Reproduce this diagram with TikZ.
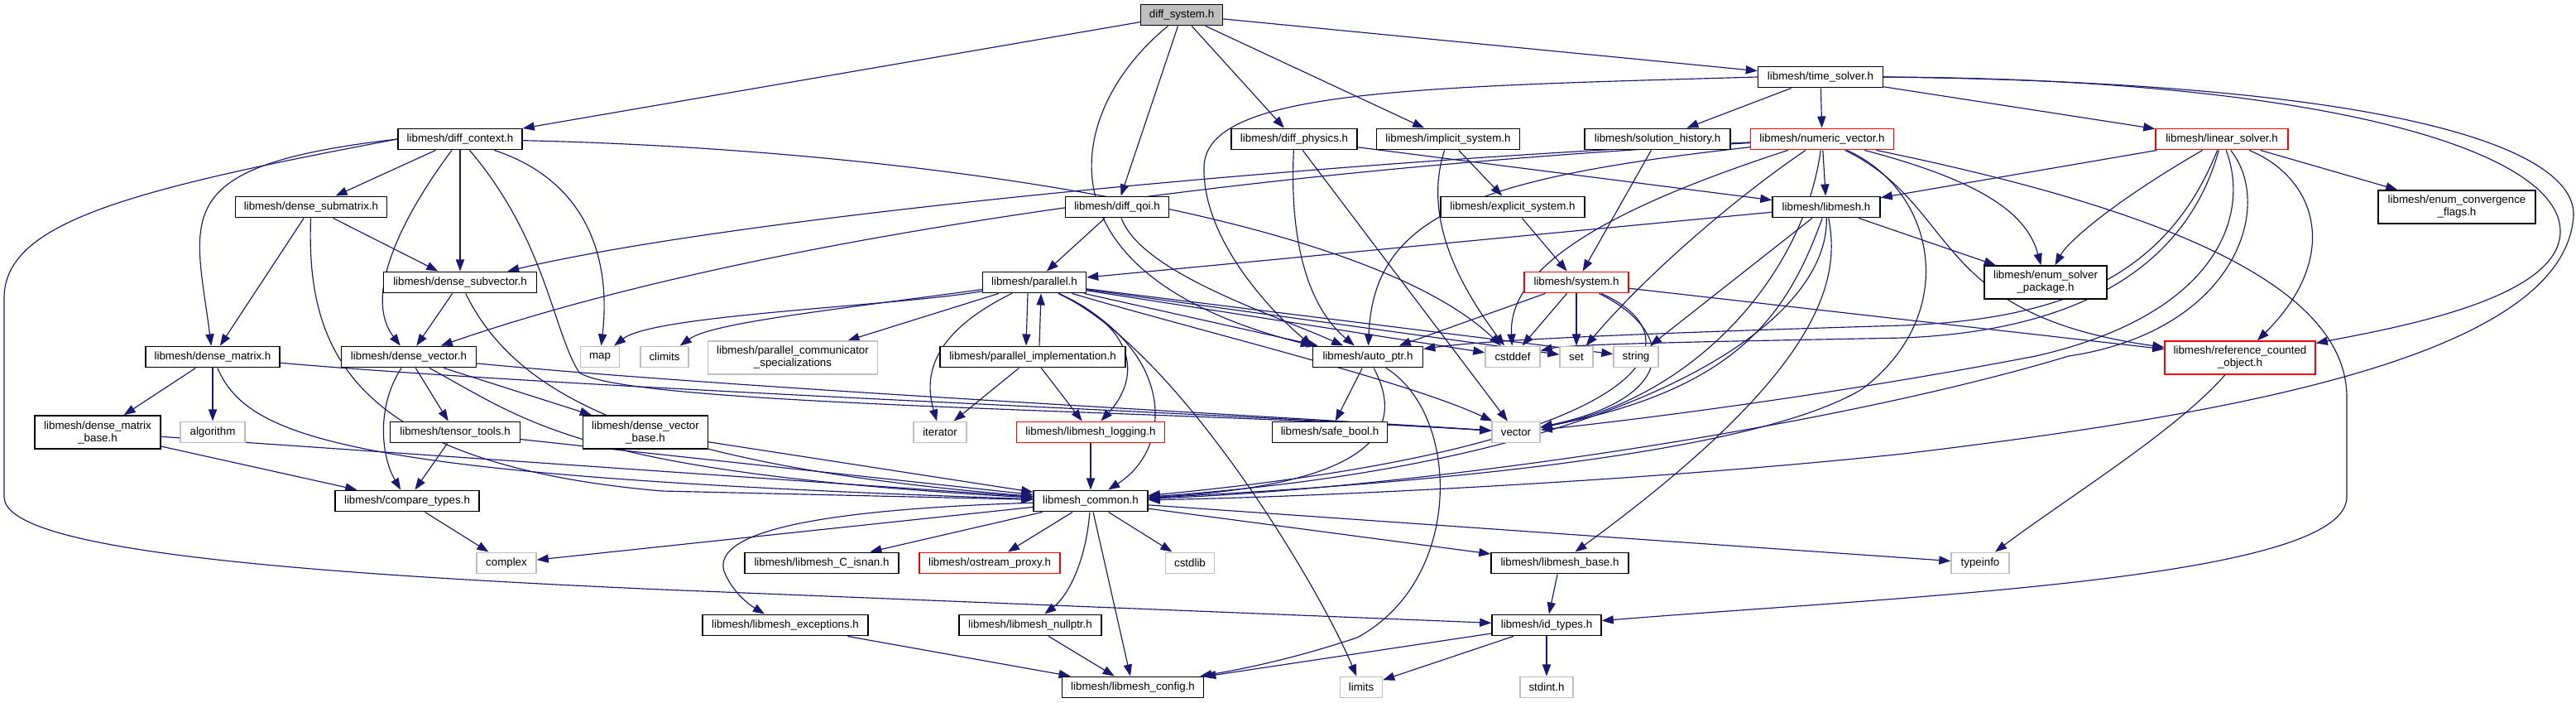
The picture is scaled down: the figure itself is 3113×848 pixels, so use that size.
\documentclass[tikz,border=0pt]{standalone}
\usepackage{fontspec}
\setmainfont{Liberation Sans}
\usetikzlibrary{arrows.meta,backgrounds}
\definecolor{eb}{RGB}{25,25,112}
\definecolor{gb}{RGB}{191,191,191}
\definecolor{rb}{RGB}{255,0,0}
\begin{document}
\begin{tikzpicture}[x=0.01cm,y=-0.01cm,
  nd/.style={font=\fontsize{3.79pt}{4.27pt}\selectfont, inner sep=0pt, minimum height=0.255cm, draw=black, line width=0.4pt, fill=white, text=black},
  rbx/.style={draw=rb},
  sbx/.style={draw=gb},
  tl/.style={minimum height=0.40cm, align=center},
  wd/.style={minimum width=#1*0.01cm},
  edg/.style={draw=eb, line width=0.33pt, -{Triangle[length=4pt,width=2.9pt]}}]
\useasboundingbox (0,0) rectangle (3113,848);
% row 0
\node[nd,wd=99,fill=gb] (ds) at (1428,18) {diff\_system.h};
% row 1
\node[nd,wd=151] (ts) at (2200,93) {libmesh/time\_solver.h};
% row 2
\node[nd,wd=150] (dctx) at (556,168) {libmesh/diff\_context.h};
\node[nd,wd=152] (dphy) at (1564,168) {libmesh/diff\_physics.h};
\node[nd,wd=173] (isys) at (1750,168) {libmesh/implicit\_system.h};
\node[nd,wd=176] (sh) at (2003,168) {libmesh/solution\_history.h};
\node[nd,rbx,wd=173] (nv) at (2202,168) {libmesh/numeric\_vector.h};
\node[nd,rbx,wd=160] (ls) at (2685,168) {libmesh/linear\_solver.h};
% row 3
\node[nd,wd=183] (dsm) at (376,250) {libmesh/dense\_submatrix.h};
\node[nd,wd=125] (dq) at (1350,250) {libmesh/diff\_qoi.h};
\node[nd,wd=174] (esys) at (1828,250) {libmesh/explicit\_system.h};
\node[nd,wd=130] (lmh) at (2207,250) {libmesh/libmesh.h};
\node[nd,tl,wd=190] (ecf) at (2969,250) {libmesh/enum\_convergence\\\_flags.h};
% row 4
\node[nd,wd=185] (dsv) at (556,341) {libmesh/dense\_subvector.h};
\node[nd,wd=125] (par) at (1250,341) {libmesh/parallel.h};
\node[nd,rbx,wd=126] (sys) at (1905,341) {libmesh/system.h};
\node[nd,tl,wd=148] (esp) at (2472,341) {libmesh/enum\_solver\\\_package.h};
% row 5
\node[nd,wd=162] (dm) at (257,431) {libmesh/dense\_matrix.h};
\node[nd,wd=163] (dv) at (494,431) {libmesh/dense\_vector.h};
\node[nd,sbx,wd=47] (map) at (725,431) {map};
\node[nd,sbx,wd=58] (clim) at (803,431) {climits};
\node[nd,sbx,tl,wd=205] (pcs) at (958,432) {libmesh/parallel\_communicator\\\_specializations};
\node[nd,wd=224] (pim) at (1248,431) {libmesh/parallel\_implementation.h};
\node[nd,wd=133] (ap) at (1653,431) {libmesh/auto\_ptr.h};
\node[nd,sbx,wd=66] (csd) at (1828,431) {cstddef};
\node[nd,sbx,wd=40] (set) at (1905,431) {set};
\node[nd,sbx,wd=54] (str) at (1977,431) {string};
\node[nd,rbx,tl,wd=182] (rco) at (2707,432) {libmesh/reference\_counted\\\_object.h};
% row 6
\node[nd,tl,wd=152] (dmb) at (118,522) {libmesh/dense\_matrix\\\_base.h};
\node[nd,sbx,wd=78] (alg) at (257,522) {algorithm};
\node[nd,wd=157] (tt) at (550,522) {libmesh/tensor\_tools.h};
\node[nd,tl,wd=151] (dvb) at (780,522) {libmesh/dense\_vector\\\_base.h};
\node[nd,sbx,wd=64] (itr) at (1136,522) {iterator};
\node[nd,rbx,wd=179] (log) at (1318,522) {libmesh/libmesh\_logging.h};
\node[nd,wd=139] (sb) at (1607,522) {libmesh/safe\_bool.h};
\node[nd,sbx,wd=58] (vec) at (1832,522) {vector};
% row 7
\node[nd,wd=174] (ct) at (492,605) {libmesh/compare\_types.h};
\node[nd,wd=138] (lc) at (1318,605) {libmesh\_common.h};
% row 8
\node[nd,sbx,wd=72] (cx) at (612,680) {complex};
\node[nd,wd=186] (isn) at (993,680) {libmesh/libmesh\_C\_isnan.h};
\node[nd,rbx,wd=170] (osp) at (1196,680) {libmesh/ostream\_proxy.h};
\node[nd,sbx,wd=59] (cstd) at (1438,680) {cstdlib};
\node[nd,wd=166] (lb) at (1885,680) {libmesh/libmesh\_base.h};
\node[nd,sbx,wd=70] (ti) at (2393,680) {typeinfo};
% row 9
\node[nd,wd=200] (lex) at (949,755) {libmesh/libmesh\_exceptions.h};
\node[nd,wd=172] (lnp) at (1245,755) {libmesh/libmesh\_nullptr.h};
\node[nd,wd=132] (idt) at (1869,755) {libmesh/id\_types.h};
% row 10
\node[nd,wd=171] (lcfg) at (1369,830) {libmesh/libmesh\_config.h};
\node[nd,sbx,wd=51] (lim) at (1645,830) {limits};
\node[nd,sbx,wd=64] (sti) at (1869,830) {stdint.h};

\begin{scope}[on background layer]
% diff_system
\draw[edg] (ds) -- (dctx);
\draw[edg] (ds) .. controls (1290,130) and (1240,330) .. (ap.north west);
\draw[edg] (ds) -- (dq);
\draw[edg] (ds) -- (dphy);
\draw[edg] (ds) -- (isys);
\draw[edg] (ds) -- (ts);
% diff_context
\draw[edg] (dctx) -- (dsm);
\draw[edg] (dctx) -- (dsv);
\draw[edg] (dctx) .. controls (480,270) and (440,360) .. (dv);
\draw[edg] (dctx.west) .. controls (200,200) and (235,260) .. (dm);
\draw[edg] (dctx.west) .. controls (150,230) and (5,270) .. (5,360) -- (5,600) .. controls (5,660) and (300,690) .. (800,712) -- (idt);
\draw[edg] (dctx) .. controls (700,215) and (740,300) .. (map);
\draw[edg] (dctx) .. controls (660,290) and (668,400) .. (700,450) .. controls (760,490) and (1400,495) .. (vec);
\draw[edg] (dctx) .. controls (1100,180) and (1650,260) .. (csd);
% dense_submatrix
\draw[edg] (dsm) -- (dm);
\draw[edg] (dsm) -- (dsv);
\draw[edg] (dsm) .. controls (370,420) and (420,560) .. (800,593) -- (lc);
% dense_subvector
\draw[edg] (dsv) -- (dv);
\draw[edg] (dsv) .. controls (620,470) and (760,560) .. (lc);
% dense_matrix
\draw[edg] (dm) -- (dmb);
\draw[edg] (dm) -- (alg);
\draw[edg] (dm) .. controls (300,530) and (420,575) .. (lc);
\draw[edg] (dm) .. controls (700,470) and (1500,500) .. (vec);
% dense_vector
\draw[edg] (dv) .. controls (455,490) and (460,550) .. (ct);
\draw[edg] (dv) -- (tt);
\draw[edg] (dv) -- (dvb);
\draw[edg] (dv) .. controls (640,510) and (700,570) .. (lc);
\draw[edg] (dv) .. controls (900,470) and (1500,500) .. (vec);
% others lower left
\draw[edg] (dmb) -- (ct);
\draw[edg] (dmb) -- (lc);
\draw[edg] (tt) -- (ct);
\draw[edg] (tt) -- (lc);
\draw[edg] (dvb) -- (lc);
\draw[edg] (ct) -- (cx);
% diff_qoi
\draw[edg] (dq) -- (par);
\draw[edg] (dq) .. controls (1380,330) and (1540,380) .. (ap);
% diff_physics
\draw[edg] (dphy) .. controls (1558,290) and (1580,370) .. (ap);
\draw[edg] (dphy) -- (vec);
\draw[edg] (dphy) -- (lmh);
% implicit / explicit / history
\draw[edg] (isys) -- (esys);
\draw[edg] (isys) .. controls (1720,260) and (1760,340) .. (csd);
\draw[edg] (esys) -- (sys);
\draw[edg] (sh) -- (sys);
% time_solver
\draw[edg] (ts) -- (sh);
\draw[edg] (ts) -- (nv);
\draw[edg] (ts) -- (ls);
\draw[edg] (ts.west) .. controls (1700,105) and (1460,110) .. (1455,200) .. controls (1452,290) and (1540,380) .. (ap.north west);
\draw[edg] (ts.east) .. controls (2800,95) and (3095,180) .. (3094,280) .. controls (3093,360) and (2900,395) .. (rco);
\draw[edg] (ts.east) .. controls (2900,100) and (3112,180) .. (3110,260) .. controls (3100,430) and (2700,500) .. (2300,548) .. controls (2000,580) and (1600,600) .. (lc);
% numeric_vector
\draw[edg] (nv) -- (lmh);
\draw[edg] (nv) .. controls (1600,195) and (900,260) .. (dsv);
\draw[edg] (nv) .. controls (1500,205) and (900,290) .. (dv);
\draw[edg] (nv) .. controls (1780,215) and (1660,260) .. (ap);
\draw[edg] (nv) .. controls (1950,250) and (1822,320) .. (csd);
\draw[edg] (nv) .. controls (2110,230) and (2000,320) .. (set);
\draw[edg] (nv) .. controls (2180,330) and (2050,480) .. (vec);
\draw[edg] (nv) .. controls (2340,230) and (2370,380) .. (2250,470) .. controls (2100,560) and (1600,590) .. (lc);
\draw[edg] (nv) .. controls (2400,220) and (2450,260) .. (esp);
\draw[edg] (nv) .. controls (2370,250) and (2330,380) .. (rco);
\draw[edg] (nv) .. controls (2600,250) and (2836,340) .. (2836,480) -- (2836,600) .. controls (2836,700) and (2300,720) .. (idt);
% libmesh.h
\draw[edg] (lmh) -- (par);
\draw[edg] (lmh) -- (str);
\draw[edg] (lmh) .. controls (2160,380) and (2100,470) .. (vec);
\draw[edg] (lmh) .. controls (2210,400) and (1950,560) .. (lc);
\draw[edg] (lmh) .. controls (2225,340) and (2200,450) .. (lb);
\draw[edg] (lmh) -- (esp);
% linear_solver
\draw[edg] (ls) -- (lmh);
\draw[edg] (ls) .. controls (2560,240) and (2500,290) .. (esp);
\draw[edg] (ls) -- (ecf);
\draw[edg] (ls) .. controls (2800,215) and (2830,310) .. (rco);
\draw[edg] (ls) .. controls (2620,330) and (2500,385) .. (2300,393) .. controls (2000,402) and (1800,410) .. (ap);
\draw[edg] (ls) .. controls (2640,330) and (2500,400) .. (2300,408) .. controls (2100,412) and (1900,415) .. (csd);
\draw[edg] (ls) .. controls (2720,260) and (2680,380) .. (2460,430) .. controls (2200,480) and (1950,510) .. (vec);
\draw[edg] (ls) .. controls (2750,250) and (2700,400) .. (2500,430) .. controls (2200,520) and (1700,590) .. (lc);
% system
\draw[edg] (sys) -- (ap);
\draw[edg] (sys) -- (csd);
\draw[edg] (sys) -- (set);
\draw[edg] (sys) .. controls (2025,400) and (2030,480) .. (vec);
\draw[edg] (sys) .. controls (2060,410) and (2000,540) .. (lc);
\draw[edg] (sys) -- (rco);
% auto_ptr
\draw[edg] (ap) -- (sb);
\draw[edg] (ap) .. controls (1700,520) and (1660,585) .. (lc);
\draw[edg] (ap) .. controls (1765,500) and (1770,700) .. (1640,770) .. controls (1580,790) and (1520,805) .. (lcfg);
% parallel
\draw[edg] (par) .. controls (1080,370) and (790,380) .. (map);
\draw[edg] (par) .. controls (1000,375) and (860,390) .. (clim);
\draw[edg] (par) -- (pcs);
\draw[edg] ([xshift=-0.08cm]par.south) -- ([xshift=-0.08cm]pim.north);
\draw[edg] ([xshift=0.08cm]pim.north) -- ([xshift=0.08cm]par.south);
\draw[edg] (par) .. controls (1130,400) and (1115,450) .. (itr);
\draw[edg] (par) .. controls (1380,400) and (1375,460) .. (log);
\draw[edg] (par) .. controls (1420,420) and (1420,540) .. (lc);
\draw[edg] (par) .. controls (1420,420) and (1590,700) .. (lim);
\draw[edg] (par) -- (ap);
\draw[edg] (par) -- (csd);
\draw[edg] (par) -- (set);
\draw[edg] (par) -- (str);
\draw[edg] (par) .. controls (1450,400) and (1700,460) .. (vec);
% parallel_implementation
\draw[edg] (pim) -- (itr);
\draw[edg] (pim) -- (log);
\draw[edg] (log) -- (lc);
% libmesh_common
\draw[edg] (lc) .. controls (1000,615) and (860,640) .. (875,690) .. controls (885,715) and (905,730) .. ([xshift=-0.25cm]lex.north);
\draw[edg] (lc) -- (cx);
\draw[edg] (lc) -- (isn);
\draw[edg] (lc) -- (osp);
\draw[edg] (lc) .. controls (1312,680) and (1290,720) .. (lnp);
\draw[edg] (lc) -- (lcfg);
\draw[edg] (lc) -- (cstd);
\draw[edg] (lc) -- (ti);
\draw[edg] (lc) -- (lb);
% lower right
\draw[edg] (lb) -- (idt);
\draw[edg] (idt) -- (lim);
\draw[edg] (idt) -- (sti);
\draw[edg] (idt) -- (lcfg);
\draw[edg] (lex) -- (lcfg);
\draw[edg] (lnp) -- (lcfg);
\draw[edg] (rco) .. controls (2630,520) and (2500,600) .. (ti);
\end{scope}
\end{tikzpicture}
\end{document}
